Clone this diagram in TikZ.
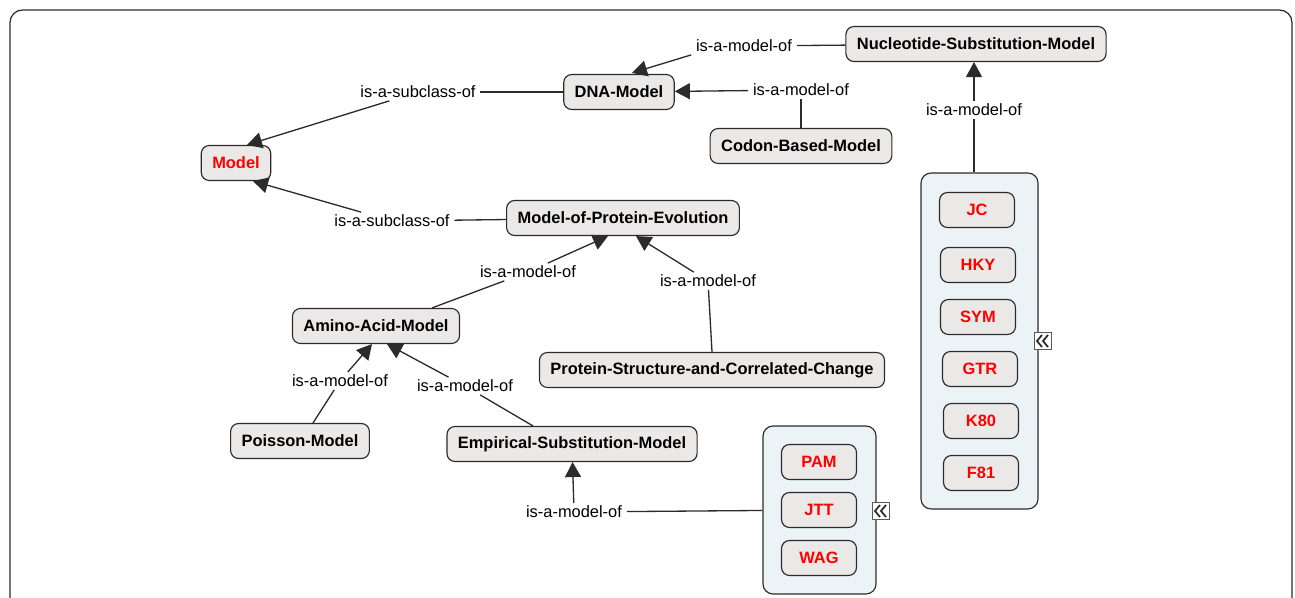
\documentclass[tikz,border=0pt]{standalone}
\usepackage{fontspec}
\setmainfont{Liberation Sans}
\usepackage{tikz}
\usetikzlibrary{positioning,arrows.meta,calc}
\definecolor{conceptfill}{HTML}{EBE8E8}
\definecolor{groupfill}{HTML}{ECF3F6}
\definecolor{edgecolor}{HTML}{2B2B2B}
\definecolor{termred}{HTML}{FF0000}
\tikzset{
    concept/.style={rectangle, rounded corners=0.16cm, draw=edgecolor, line width=0.65pt, fill=conceptfill, minimum height=0.7cm, inner xsep=0.22cm, font=\fontsize{9.35}{11}\selectfont\bfseries},
    red concept/.style={concept, text=termred},
    member/.style={red concept, minimum width=1.5cm},
    group/.style={rectangle, rounded corners=0.2cm, draw=edgecolor, line width=0.65pt, fill=groupfill},
    phrase/.style={inner xsep=0.09cm, inner ysep=0.05cm, font=\fontsize{9.35}{11}\selectfont},
    link/.style={edgecolor, line width=0.75pt},
    link arrow/.style={link, -{Triangle[length=0.3cm, width=0.32cm]}},
    collapse icon/.style={rectangle, draw=gray!70!black, line width=0.6pt, fill=white, minimum size=0.34cm, inner sep=0pt},
    icon mark/.style={edgecolor, line width=1pt},
    frame/.style={draw=edgecolor, line width=0.7pt, rounded corners=0.25cm}
}

\begin{document}
\begin{tikzpicture}[x=0.02cm, y=-0.02cm]
    \path[use as bounding box] (0,0) rectangle (1295,598);
    \clip (0,0) rectangle (1295,598);
    \draw[frame] (10,10) rectangle (1292,650);

    % Concepts
    \node[concept] (nuc) at (976,44) {Nucleotide-Substitution-Model};
    \node[concept] (dna) at (619,92) {DNA-Model};
    \node[concept] (codon) at (801,146) {Codon-Based-Model};
    \node[red concept] (model) at (236,163) {Model};
    \node[concept] (mpe) at (623,218) {Model-of-Protein-Evolution};
    \node[concept] (aam) at (376,326) {Amino-Acid-Model};
    \node[concept] (psc) at (712,370) {Protein-Structure-and-Correlated-Change};
    \node[concept] (poisson) at (300,441) {Poisson-Model};
    \node[concept] (esm) at (572,444) {Empirical-Substitution-Model};

    % Nucleotide models group
    \node[group, minimum width=2.34cm, minimum height=6.72cm] (nts) at (979.5,341) {};
    \node[member] (jc) at (977,210) {JC};
    \node[member] (hky) at (978,265) {HKY};
    \node[member] (sym) at (978,317) {SYM};
    \node[member] (gtr) at (980,369) {GTR};
    \node[member] (k80) at (981,421) {K80};
    \node[member] (f81) at (981,473) {F81};
    \node[collapse icon] (ic1) at (1043,341) {};
    \draw[icon mark] ($(ic1)+(-1,-6)$) -- ($(ic1)+(-6,0)$) -- ($(ic1)+(-1,6)$);
    \draw[icon mark] ($(ic1)+(5,-6)$) -- ($(ic1)+(0,0)$) -- ($(ic1)+(5,6)$);

    % Amino acid models group
    \node[group, minimum width=2.26cm, minimum height=3.36cm] (aas) at (819.5,510) {};
    \node[member] (pam) at (819,462) {PAM};
    \node[member] (jtt) at (819,510) {JTT};
    \node[member] (wag) at (819,558) {WAG};
    \node[collapse icon] (ic2) at (881,511) {};
    \draw[icon mark] ($(ic2)+(-1,-6)$) -- ($(ic2)+(-6,0)$) -- ($(ic2)+(-1,6)$);
    \draw[icon mark] ($(ic2)+(5,-6)$) -- ($(ic2)+(0,0)$) -- ($(ic2)+(5,6)$);

    % Linking phrases
    \node[phrase] (lNucDna) at (744,46) {is-a-model-of};
    \node[phrase] (lCodDna) at (801,90) {is-a-model-of};
    \node[phrase] (lNtsNuc) at (974,110) {is-a-model-of};
    \node[phrase] (lDnaMod) at (418,92) {is-a-subclass-of};
    \node[phrase] (lMpeMod) at (392,221) {is-a-subclass-of};
    \node[phrase] (lAamMpe) at (528,272) {is-a-model-of};
    \node[phrase] (lPscMpe) at (708,281) {is-a-model-of};
    \node[phrase] (lPoiAam) at (340,381) {is-a-model-of};
    \node[phrase] (lEsmAam) at (465,386) {is-a-model-of};
    \node[phrase] (lEmpEsm) at (574,512) {is-a-model-of};

    % Links into DNA-Model
    \draw[link] (nuc) -- (lNucDna);
    \draw[link arrow] (lNucDna.south west) -- ($(dna.north)+(13,-1)$);
    \draw[link] (codon) -- (lCodDna);
    \draw[link arrow] (lCodDna) -- (dna);
    \draw[link] (lNtsNuc |- nts.north) -- (lNtsNuc);
    \draw[link arrow] (lNtsNuc) -- (lNtsNuc |- nuc.south);

    % Links into Model
    \draw[link] (dna) -- (lDnaMod);
    \draw[link arrow] (lDnaMod) -- ($(model.north)+(11,0)$);
    \draw[link] (mpe) -- (lMpeMod);
    \draw[link arrow] (lMpeMod) -- ($(model.south)+(17,0)$);

    % Links into Model-of-Protein-Evolution
    \draw[link] ($(aam.north)+(56,0)$) -- (lAamMpe);
    \draw[link arrow] (lAamMpe) -- ($(mpe.south)+(-15,0)$);
    \draw[link] (psc.north) -- (lPscMpe);
    \draw[link arrow] (lPscMpe) -- ($(mpe.south)+(13,0)$);

    % Links into Amino-Acid-Model
    \draw[link] ($(poisson.north)+(13,0)$) -- (lPoiAam);
    \draw[link arrow] (lPoiAam) -- ($(aam.south)+(-4,0)$);
    \draw[link] ($(esm.north)+(-39,0)$) -- (lEsmAam);
    \draw[link arrow] (lEsmAam) -- ($(aam.south)+(11,0)$);

    % Link into Empirical-Substitution-Model
    \draw[link] (aas) -- (lEmpEsm);
    \draw[link arrow] (lEmpEsm) -- (esm);
\end{tikzpicture}
\end{document}
